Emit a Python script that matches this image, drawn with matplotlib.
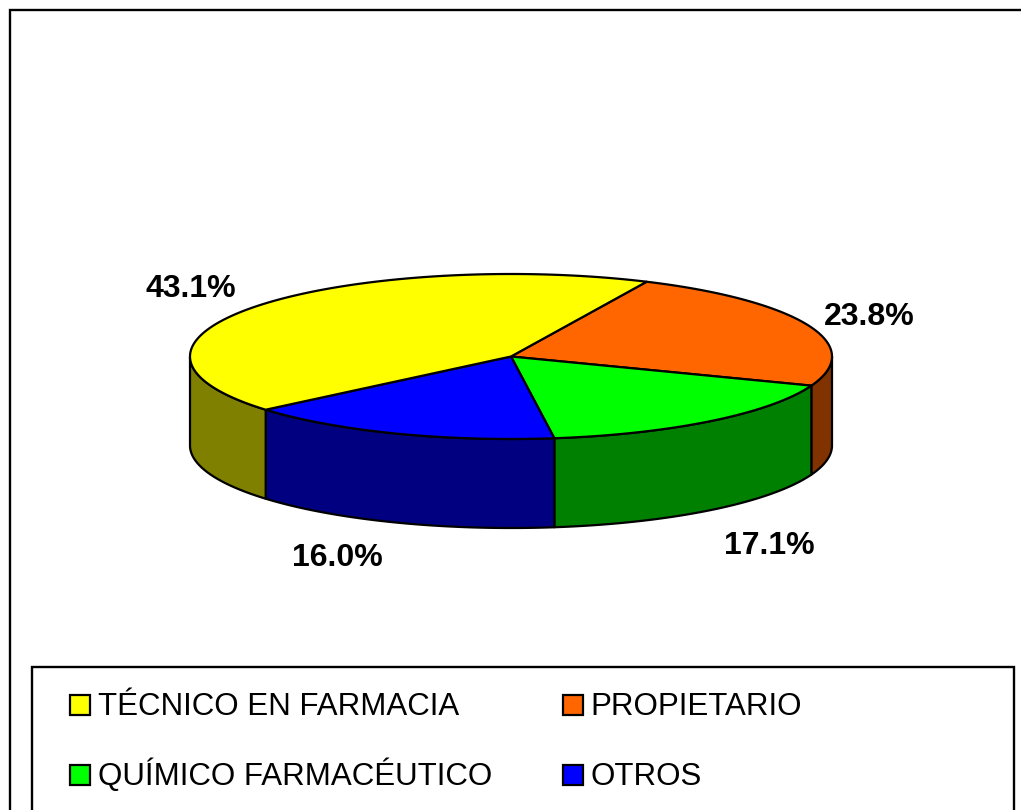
import numpy as np
import matplotlib.pyplot as plt
from matplotlib.patches import Polygon, Rectangle

plt.rcParams['font.family'] = ['Liberation Sans', 'DejaVu Sans']

categorias = ["TÉCNICO EN FARMACIA", "PROPIETARIO", "QUÍMICO FARMACÉUTICO", "OTROS"]
valores = [43.1, 23.8, 17.1, 16.0]
etiquetas = ["43.1%", "23.8%", "17.1%", "16.0%"]

colores = ['#FFFF00', '#FF6600', '#00FF00', '#0000FF']
colores_lado = ['#808000', '#803300', '#008000', '#000080']

# geometria del pastel en pixeles
cx, cy = 511, 356.5
rx, ry = 321, 82.5
alto = 89
inicio = 65.0  # donde termina el amarillo y empieza el naranja
orden = [1, 2, 3, 0]
pos_etiquetas = [(191, 297), (869, 325), (769, 554), (337, 566)]

fig = plt.figure(figsize=(10.21, 8.10), dpi=100)
ax = fig.add_axes([0, 0, 1, 1])
ax.set_xlim(0, 1021)
ax.set_ylim(810, 0)
ax.axis('off')

# marco exterior y marco de leyenda
ax.add_patch(Rectangle((10, 9.5), 1040, 840, fc='white', ec='black', lw=1.7, zorder=1))
ax.add_patch(Rectangle((32, 667), 982, 180, fc='white', ec='black', lw=1.7, zorder=1))


def punto(t, dy=0):
    return cx + rx * np.cos(t), cy - ry * np.sin(t) + dy


fr = np.array(valores)[orden] / sum(valores)
bordes = np.deg2rad(inicio) - 2 * np.pi * np.concatenate([[0], np.cumsum(fr)])

# paredes laterales, solo la mitad de adelante
for i, k in enumerate(orden):
    a = np.linspace(bordes[i], bordes[i + 1], 200)
    a = a[np.sin(a) <= 0]
    if len(a) == 0:
        continue
    x, y = punto(a)
    xb, yb = punto(a, alto)
    pts = np.column_stack([np.r_[x, xb[::-1]], np.r_[y, yb[::-1]]])
    ax.add_patch(Polygon(pts, closed=True, fc=colores_lado[k], ec='black', lw=1.6, joinstyle='round', zorder=2))

# cara superior
for i, k in enumerate(orden):
    a = np.linspace(bordes[i], bordes[i + 1], 300)
    x, y = punto(a)
    pts = np.column_stack([np.r_[cx, x], np.r_[cy, y]])
    ax.add_patch(Polygon(pts, closed=True, fc=colores[k], ec='black', lw=1.6, joinstyle='round', zorder=3))

for et, (x, y) in zip(etiquetas, pos_etiquetas):
    ax.text(x, y, et, fontsize=23, fontweight='bold', ha='center', va='baseline', color='black', zorder=5)

# leyenda
pos_ley = [(70, 705), (563, 705), (70, 775), (563, 775)]
for cat, col, (x, y) in zip(categorias, colores, pos_ley):
    ax.add_patch(Rectangle((x, y - 10), 20, 20, fc=col, ec='black', lw=1.6, zorder=4))
    ax.text(x + 27.5, y + 10, cat, fontsize=22.5, ha='left', va='baseline', color='black', zorder=5)

fig.savefig('out.png', dpi=100)
